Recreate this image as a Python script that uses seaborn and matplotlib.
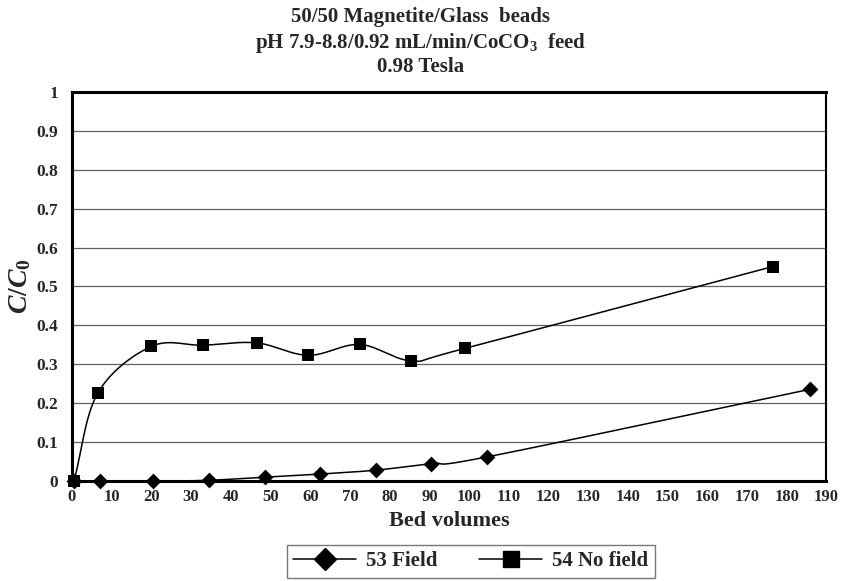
import numpy as np
import pandas as pd
import seaborn as sns
import matplotlib.pyplot as plt
from matplotlib.lines import Line2D

# values
field_bv = [0.5, 7, 20.5, 34.5, 48.5, 62.5, 76.5, 90.5, 104.5, 186]
field_c = [0.0, 0.0, 0.0, 0.002, 0.01, 0.018, 0.028, 0.045, 0.062, 0.236]
nofield_bv = [0.5, 6.5, 20, 33, 46.5, 59.5, 72.5, 85.5, 99, 176.5]
nofield_c = [0.0, 0.226, 0.346, 0.349, 0.355, 0.323, 0.351, 0.309, 0.341, 0.551]

x_ticks = list(range(0, 191, 10))
y_ticks = [0, 0.1, 0.2, 0.3, 0.4, 0.5, 0.6, 0.7, 0.8, 0.9, 1]
y_labels = ['0', '0.1', '0.2', '0.3', '0.4', '0.5', '0.6', '0.7', '0.8', '0.9', '1']


def smooth(x, y, n=30):
    # spreadsheet-style smoothed line (Catmull-Rom through the points)
    x = np.asarray(x, float)
    y = np.asarray(y, float)
    px = np.concatenate([[2 * x[0] - x[1]], x, [2 * x[-1] - x[-2]]])
    py = np.concatenate([[2 * y[0] - y[1]], y, [2 * y[-1] - y[-2]]])
    xs, ys = [], []
    t = np.linspace(0, 1, n)
    for i in range(1, len(px) - 2):
        for p, out in ((px, xs), (py, ys)):
            p0, p1, p2, p3 = p[i - 1], p[i], p[i + 1], p[i + 2]
            c1 = p1 + (p2 - p0) / 6
            c2 = p2 - (p3 - p1) / 6
            out.extend((1 - t) ** 3 * p1 + 3 * (1 - t) ** 2 * t * c1
                       + 3 * (1 - t) * t ** 2 * c2 + t ** 3 * p2)
    return xs, ys


sns.set_style("white")
plt.rcParams['font.family'] = ['Liberation Serif', 'DejaVu Serif']
plt.rcParams['font.weight'] = 'bold'
plt.rcParams['mathtext.fontset'] = 'custom'
plt.rcParams['mathtext.rm'] = 'Liberation Serif:bold'
plt.rcParams['mathtext.bf'] = 'Liberation Serif:bold'
plt.rcParams['mathtext.it'] = 'Liberation Serif:italic:bold'

fig = plt.figure(figsize=(8.41, 5.81), dpi=100)
ax = fig.add_axes([0.0856, 0.172, 0.897, 0.670])

for bv, c, mk in ((field_bv, field_c, 'D'), (nofield_bv, nofield_c, 's')):
    sx, sy = smooth(bv, c)
    df = pd.DataFrame({'x': sx, 'y': sy})
    sns.lineplot(data=df, x='x', y='y', sort=False, color='black', lw=1.1, ax=ax,
                 estimator=None)
    sns.scatterplot(x=bv, y=c, marker=mk, s=65, color='black', edgecolor='black',
                    linewidth=0, ax=ax, zorder=5, clip_on=False)

ax.set_xlim(0, 190)
ax.set_ylim(0, 1)
ax.set_xticks(x_ticks)
ax.set_yticks(y_ticks)
ax.set_yticklabels(y_labels)
ax.tick_params(axis='both', labelsize=12.5, direction='out', length=4, width=1)
ax.tick_params(axis='x', labelsize=12, pad=2)
ax.tick_params(axis='y', length=0, pad=10)
ax.grid(axis='y', color='#606060', lw=0.9)
ax.grid(axis='x', visible=False)
for s in ('left', 'bottom', 'top'):
    ax.spines[s].set_linewidth(2.2)
ax.spines['right'].set_linewidth(1.5)
for s in ax.spines.values():
    s.set_color('black')

ax.set_xlabel('Bed volumes', fontsize=16, fontweight='bold', labelpad=4)
ax.set_ylabel(r'$\mathit{C/C}_\mathbf{0}$', fontsize=20, labelpad=2)

fig.text(0.5, 0.988, '50/50 Magnetite/Glass  beads', ha='center', va='top',
         fontsize=15, fontweight='bold')
fig.text(0.5, 0.946, r'pH 7.9-8.8/0.92 mL/min/CoCO$_\mathbf{3}$  feed', ha='center',
         va='top', fontsize=15, fontweight='bold')
fig.text(0.5, 0.902, '0.98 Tesla', ha='center', va='top', fontsize=15,
         fontweight='bold')

handles = [Line2D([], [], color='black', marker='D', markersize=11, lw=1.1),
           Line2D([], [], color='black', marker='s', markersize=11, lw=1.1)]
leg = fig.legend(handles, ['53 Field', '54 No field'], loc='lower center',
                 bbox_to_anchor=(0.56, -0.012), ncol=2, frameon=True, fancybox=False,
                 prop={'family': 'Liberation Serif', 'weight': 'bold', 'size': 15},
                 handlelength=3.0, columnspacing=2.0, borderpad=0.3, handletextpad=0.5)
leg.get_frame().set_edgecolor('#555555')
leg.get_frame().set_linewidth(1)

fig.savefig('out.png', dpi=100)
